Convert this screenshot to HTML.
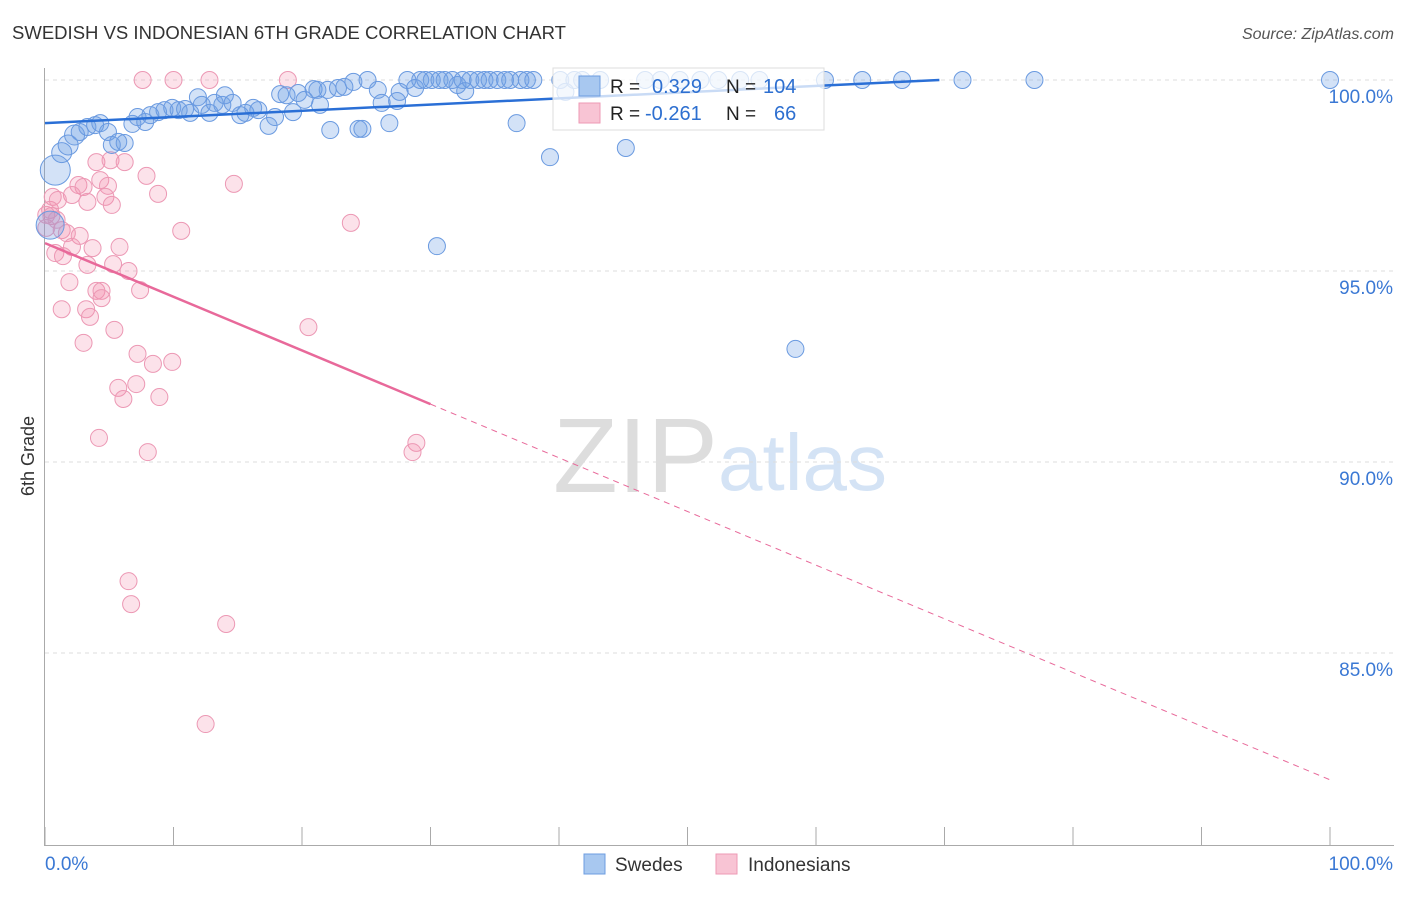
<!DOCTYPE html>
<html><head><meta charset="utf-8"><style>
body{margin:0;background:#fff;font-family:"Liberation Sans",sans-serif}
svg text{font-family:"Liberation Sans",sans-serif}
</style></head><body>
<svg id="chart" width="1406" height="892" xmlns="http://www.w3.org/2000/svg">
<text x="12" y="39" font-size="18" fill="#333" textLength="554" lengthAdjust="spacingAndGlyphs">SWEDISH VS INDONESIAN 6TH GRADE CORRELATION CHART</text>
<text x="1394" y="39" font-size="16" fill="#555" text-anchor="end" font-style="italic">Source: ZipAtlas.com</text>
<g>
<text x="553" y="492" font-size="106" fill="#ddd" font-family="Liberation Serif, serif">ZIP</text>
<text x="718" y="490" font-size="80" fill="#d4e3f5">atlas</text>
</g>
<g id="grid"></g>
<g id="axes"></g>
<g id="pts"></g>
<g id="lines"></g>
<text transform="translate(34,456) rotate(-90)" font-size="18" fill="#333" text-anchor="middle">6th Grade</text>
<g>
<rect x="553" y="68" width="271" height="62" fill="#fff" fill-opacity="0.75" stroke="#ddd"/>
<rect x="579" y="76" width="21" height="20" fill="#a8c8f0" stroke="#6d9de0"/>
<rect x="579" y="103" width="21" height="20" fill="#f8c4d4" stroke="#ee9ab5"/>
<text x="610" y="93" font-size="19" fill="#222">R = </text><text x="652" y="93" font-size="20" fill="#2d6fd0">0.329</text>
<text x="726" y="93" font-size="19" fill="#222">N = </text><text x="763" y="93" font-size="20" fill="#2d6fd0">104</text>
<text x="610" y="120" font-size="19" fill="#222">R = </text><text x="645" y="120" font-size="20" fill="#2d6fd0">-0.261</text>
<text x="726" y="120" font-size="19" fill="#222">N = </text><text x="774" y="120" font-size="20" fill="#2d6fd0">66</text>
</g>
<g>
<rect x="584" y="854" width="21" height="20" fill="#a8c8f0" stroke="#6d9de0"/>
<text x="615" y="871" font-size="19" fill="#333">Swedes</text>
<rect x="716" y="854" width="21" height="20" fill="#f8c4d4" stroke="#ee9ab5"/>
<text x="748" y="871" font-size="19" fill="#333">Indonesians</text>
</g>
</svg>
<script>
const yTicks=[100,95,90,85];
const xTickLabels=["0.0%","100.0%"];
const blueX=[0.8,0.4,1.3,1.8,2.3,2.7,3.3,3.9,4.3,4.9,5.2,5.7,6.2,6.8,7.2,7.8,8.2,8.8,9.3,9.9,10.4,10.9,11.3,11.9,12.2,12.8,13.2,13.8,14.0,14.6,15.2,15.6,16.2,16.6,17.4,17.9,18.3,18.8,19.3,19.7,20.2,20.9,21.2,21.4,22.0,22.2,22.8,23.3,24.0,24.4,24.7,25.1,25.9,26.2,26.8,27.4,27.6,28.2,28.8,29.2,29.6,30.1,30.5,30.7,31.1,31.7,32.1,32.5,32.7,33.1,33.7,34.2,34.6,35.2,35.8,36.2,36.7,37.0,37.5,38.0,39.3,40.1,40.5,41.2,41.8,43.2,45.2,46.7,47.9,49.4,51.0,52.4,54.1,55.6,58.4,60.7,63.6,66.7,71.4,77.0,100];
const blueY=[97.64,96.2,98.1,98.3,98.56,98.64,98.77,98.82,98.87,98.64,98.3,98.38,98.35,98.85,99.03,98.9,99.08,99.16,99.21,99.27,99.21,99.24,99.14,99.55,99.35,99.14,99.4,99.35,99.6,99.4,99.08,99.14,99.27,99.21,98.8,99.03,99.63,99.6,99.16,99.66,99.48,99.76,99.74,99.35,99.74,98.69,99.79,99.82,99.95,98.72,98.72,100,99.74,99.4,98.87,99.45,99.69,100,99.79,100,100,100,95.65,100,100,100,99.87,100,99.71,100,100,100,100,100,100,100,98.87,100,100,100,97.98,100,99.69,100,100,100,98.22,100,100,100,100,100,100,100,92.96,100,100,100,100,100,100];
const pinkX=[7.6,10.0,12.8,18.9,4.0,5.1,6.2,4.3,4.9,2.6,3.0,2.1,3.3,4.7,5.2,7.9,8.8,14.7,0.6,0.4,1.0,0.1,0.5,1.3,1.7,2.7,2.1,3.7,5.8,0.8,1.4,3.3,5.3,6.5,1.9,4.0,4.4,4.4,7.4,1.3,3.2,3.5,5.4,10.6,23.8,20.5,3.0,7.2,8.4,9.9,5.7,7.1,6.1,8.9,4.2,8.0,28.9,28.6,6.5,6.7,14.1,12.5,0.1,0.9];
const pinkY=[100,100,100,100,97.85,97.9,97.85,97.38,97.23,97.25,97.2,96.99,96.81,96.94,96.73,97.49,97.02,97.28,96.94,96.6,96.86,96.47,96.44,96.07,95.99,95.92,95.63,95.6,95.63,95.47,95.39,95.16,95.18,95.0,94.71,94.48,94.48,94.29,94.5,94.0,94.0,93.8,93.46,96.05,96.26,93.53,93.12,92.83,92.57,92.62,91.94,92.04,91.65,91.7,90.63,90.26,90.5,90.26,86.88,86.28,85.76,83.14,96.13,96.34];
const blueTrend=[98.87,100.0]; const blueTrendX=[0,69.6];
const pinkTrend=[95.73,81.68]; const pinkSolidEnd=30;
const NS="http://www.w3.org/2000/svg";
const sx=v=>45+v*12.85, sy=v=>80+(100-v)*38.2;
function mk(tag,attrs,parent){const e=document.createElementNS(NS,tag);for(const k in attrs)e.setAttribute(k,attrs[k]);parent.appendChild(e);return e;}
const grid=document.getElementById('grid'),axes=document.getElementById('axes'),pts=document.getElementById('pts'),lines=document.getElementById('lines');
yTicks.forEach(t=>{
 const l=mk('line',{x1:45,x2:1394,y1:sy(t),y2:sy(t),stroke:'#ddd','stroke-dasharray':'4,4'},grid);
 
 
 const tx=mk('text',{x:1393,y:sy(t)+23,'font-size':19,fill:'#3a78d4','text-anchor':'end'},axes);
 tx.textContent=t.toFixed(1)+'%';
 
 
});
mk('line',{x1:44.5,x2:44.5,y1:68,y2:845,stroke:'#aaa'},axes);
mk('line',{x1:44,x2:1394,y1:845.5,y2:845.5,stroke:'#aaa'},axes);
for(let i=0;i<=10;i++){const x=sx(i*10);mk('line',{x1:x,x2:x,y1:827,y2:845,stroke:'#aaa'},axes);}
const xl0=mk('text',{x:45,y:870,'font-size':19,fill:'#3a78d4'},axes);xl0.textContent=xTickLabels[0];


const xl1=mk('text',{x:1393,y:870,'font-size':19,fill:'#3a78d4','text-anchor':'end'},axes);xl1.textContent=xTickLabels[1];


pinkX.forEach((x,i)=>{
 const c=mk('circle',{cx:sx(x),cy:sy(pinkY[i]),r:8.5,fill:'rgba(242,140,172,0.25)',stroke:'#ec98b4','stroke-width':1},pts);
 
 
});
blueX.forEach((x,i)=>{
 const r=i===0?15:(i===1?14:(i<5?10:8.5));
 const c=mk('circle',{cx:sx(x),cy:sy(blueY[i]),r:r,fill:'rgba(110,160,230,0.3)',stroke:'#6a9ae0','stroke-width':1},pts);
 
 
});
const bl=mk('line',{x1:sx(blueTrendX[0]),y1:sy(blueTrend[0]),x2:sx(blueTrendX[1]),y2:sy(blueTrend[1]),stroke:'#2a6fd6','stroke-width':2.5},lines);


const pAt=x=>pinkTrend[0]+(pinkTrend[1]-pinkTrend[0])*x/100;
const pl=mk('line',{x1:sx(0),y1:sy(pAt(0)),x2:sx(pinkSolidEnd),y2:sy(pAt(pinkSolidEnd)),stroke:'#e8699a','stroke-width':2.5},lines);


const pd=mk('line',{x1:sx(pinkSolidEnd),y1:sy(pAt(pinkSolidEnd)),x2:sx(100),y2:sy(pAt(100)),stroke:'#e8699a','stroke-width':1,'stroke-dasharray':'6,5'},lines);


</script>
</body></html>
